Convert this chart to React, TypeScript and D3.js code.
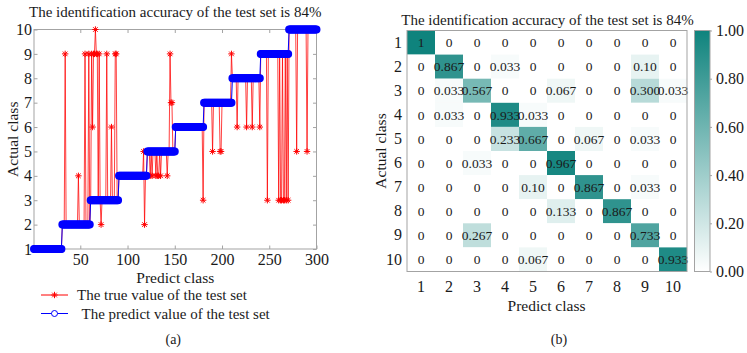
import React, { useEffect, useRef } from 'react';
import * as d3 from 'd3';

const TITLE = 'The identification accuracy of the test set is 84%';

// blue series: the predict value of every test sample (30 per class)
const predictValues = [
  1,1,1,1,1,1,1,1,1,1,1,1,1,1,1,1,1,1,1,1,1,1,1,1,1,1,1,1,1,1,
  2,2,2,2,2,2,2,2,2,2,2,2,2,2,2,2,2,2,2,2,2,2,2,2,2,2,2,2,2,2,
  3,3,3,3,3,3,3,3,3,3,3,3,3,3,3,3,3,3,3,3,3,3,3,3,3,3,3,3,3,3,
  4,4,4,4,4,4,4,4,4,4,4,4,4,4,4,4,4,4,4,4,4,4,4,4,4,4,4,4,4,4,
  5,5,5,5,5,5,5,5,5,5,5,5,5,5,5,5,5,5,5,5,5,5,5,5,5,5,5,5,5,5,
  6,6,6,6,6,6,6,6,6,6,6,6,6,6,6,6,6,6,6,6,6,6,6,6,6,6,6,6,6,6,
  7,7,7,7,7,7,7,7,7,7,7,7,7,7,7,7,7,7,7,7,7,7,7,7,7,7,7,7,7,7,
  8,8,8,8,8,8,8,8,8,8,8,8,8,8,8,8,8,8,8,8,8,8,8,8,8,8,8,8,8,8,
  9,9,9,9,9,9,9,9,9,9,9,9,9,9,9,9,9,9,9,9,9,9,9,9,9,9,9,9,9,9,
  10,10,10,10,10,10,10,10,10,10,10,10,10,10,10,10,10,10,10,10,10,10,10,10,10,10,10,10,10,10,
];

// red series: the true value of every test sample
const trueValues = [
  1,1,1,1,1,1,1,1,1,1,1,1,1,1,1,1,1,1,1,1,1,1,1,1,1,1,1,1,1,1,
  2,2,2,9,2,2,2,2,2,2,2,2,2,2,2,2,2,4,2,2,2,2,2,2,9,2,2,2,9,2,
  3,9,6,9,9,10,9,9,3,9,3,2,3,3,3,3,3,9,3,3,3,3,6,3,3,3,9,9,3,3,
  4,4,4,4,4,4,4,4,4,4,4,4,4,4,4,4,4,4,4,4,4,4,4,4,4,4,5,2,4,4,
  5,5,5,4,5,4,5,5,5,4,5,4,4,5,4,5,5,5,5,5,5,4,5,5,9,7,7,5,5,5,
  6,6,6,6,6,6,6,6,6,6,6,6,6,6,6,6,6,6,6,6,6,6,6,6,6,6,6,6,6,3,
  7,7,7,7,7,7,7,7,7,5,7,7,7,7,7,7,7,5,5,7,7,7,7,7,7,7,7,7,7,9,
  8,8,8,8,8,6,8,8,8,8,8,8,8,8,8,6,8,8,8,8,8,6,8,8,8,8,8,8,8,6,
  9,9,9,9,9,9,9,3,9,9,9,9,9,9,9,9,9,9,9,3,9,3,3,9,3,3,9,3,9,3,
  10,10,10,10,10,10,10,10,5,10,10,10,10,10,10,10,10,10,10,5,10,10,10,10,10,10,10,10,10,10,
];

const xTickValues = [50, 100, 150, 200, 250, 300];
const yTickValues = [1, 2, 3, 4, 5, 6, 7, 8, 9, 10];

const classLabels = ['1', '2', '3', '4', '5', '6', '7', '8', '9', '10'];

// confusion matrix, rows = actual class, columns = predict class (as printed)
const confusionRows = [
  ['1', '0', '0', '0', '0', '0', '0', '0', '0', '0'],
  ['0', '0.867', '0', '0.033', '0', '0', '0', '0', '0.10', '0'],
  ['0', '0.033', '0.567', '0', '0', '0.067', '0', '0', '0.300', '0.033'],
  ['0', '0.033', '0', '0.933', '0.033', '0', '0', '0', '0', '0'],
  ['0', '0', '0', '0.233', '0.667', '0', '0.067', '0', '0.033', '0'],
  ['0', '0', '0.033', '0', '0', '0.967', '0', '0', '0', '0'],
  ['0', '0', '0', '0', '0.10', '0', '0.867', '0', '0.033', '0'],
  ['0', '0', '0', '0', '0', '0.133', '0', '0.867', '0', '0'],
  ['0', '0', '0.267', '0', '0', '0', '0', '0', '0.733', '0'],
  ['0', '0', '0', '0', '0.067', '0', '0', '0', '0', '0.933'],
];

const colorbarTicks = [0, 0.2, 0.4, 0.6, 0.8, 1.0];

const FONT = '"Liberation Serif", "Times New Roman", serif';
const FRAME = '#a3a3a3';
const TEXT = '#1a1a1a';
const TEAL = '#0f837d';
const RED = '#ff0000';
const BLUE = '#0000ff';

const starPath = 'M-3.2,0H3.2M0,-3.2V3.2M-2.3,-2.3L2.3,2.3M-2.3,2.3L2.3,-2.3';

const App = () => {
  const ref = useRef<SVGSVGElement | null>(null);
  const width = 747, height = 353;

  useEffect(() => {
    const svg = d3.select(ref.current);
    svg.selectAll('*').remove();

    // ---------- panel (a): line chart ----------
    const left = 34, right = 316.5, top = 29.5, bottom = 249;
    const x = d3.scaleLinear().domain([1, 300]).range([left, right]);
    const y = d3.scaleLinear().domain([1, 10]).range([bottom, top]);

    const styleAxis = (g: any) => {
      g.select('.domain').remove();
      g.selectAll('.tick line').attr('stroke', FRAME);
      g.selectAll('.tick text')
        .attr('fill', TEXT)
        .style('font-family', FONT)
        .style('font-size', '16px');
    };

    svg.append('g')
      .attr('transform', `translate(0,${bottom})`)
      .call(d3.axisBottom(x).tickValues(xTickValues).tickSize(-3.5).tickPadding(5))
      .call(styleAxis);
    svg.append('g')
      .attr('transform', `translate(0,${top})`)
      .call(d3.axisTop(x).tickValues(xTickValues).tickSize(-3.5).tickFormat(() => ''))
      .call(styleAxis);
    svg.append('g')
      .attr('transform', `translate(${left},0)`)
      .call(d3.axisLeft(y).tickValues(yTickValues).tickSize(-3.5).tickPadding(2))
      .call(styleAxis);
    svg.append('g')
      .attr('transform', `translate(${right},0)`)
      .call(d3.axisRight(y).tickValues(yTickValues).tickSize(-3.5).tickFormat(() => ''))
      .call(styleAxis);

    svg.append('rect')
      .attr('x', left).attr('y', top)
      .attr('width', right - left).attr('height', bottom - top)
      .attr('fill', 'none').attr('stroke', FRAME).attr('stroke-width', 1);

    const line = d3.line<number>()
      .x((_, i) => x(i + 1))
      .y(d => y(d));

    // red: true value
    svg.append('path')
      .datum(trueValues)
      .attr('d', line)
      .attr('fill', 'none')
      .attr('stroke', RED)
      .attr('stroke-opacity', 0.75)
      .attr('stroke-width', 1);
    svg.append('g')
      .selectAll('path')
      .data(trueValues)
      .join('path')
      .attr('transform', (d, i) => `translate(${x(i + 1)},${y(d)})`)
      .attr('d', starPath)
      .attr('stroke', RED)
      .attr('stroke-width', 1);

    // blue: predict value
    svg.append('path')
      .datum(predictValues)
      .attr('d', line)
      .attr('fill', 'none')
      .attr('stroke', BLUE)
      .attr('stroke-width', 1);
    svg.append('g')
      .selectAll('circle')
      .data(predictValues)
      .join('circle')
      .attr('cx', (d, i) => x(i + 1))
      .attr('cy', d => y(d))
      .attr('r', 3.2)
      .attr('fill', 'none')
      .attr('stroke', BLUE)
      .attr('stroke-width', 1.6);

    const addText = (txt: string, tx: number, ty: number, size: number, anchor = 'middle', rotate = false) => {
      const t = svg.append('text')
        .attr('text-anchor', anchor)
        .attr('fill', TEXT)
        .style('font-family', FONT)
        .style('font-size', `${size}px`)
        .text(txt);
      if (rotate) t.attr('transform', `translate(${tx},${ty}) rotate(-90)`);
      else t.attr('x', tx).attr('y', ty);
      return t;
    };

    addText(TITLE, (left + right) / 2, 16.5, 15);
    addText('Predict class', (left + right) / 2, 282.5, 15.5);
    addText('Actual class', 18, (top + bottom) / 2, 15.5, 'middle', true);

    // legend
    const lg = svg.append('g');
    lg.append('line').attr('x1', 41).attr('x2', 68).attr('y1', 295).attr('y2', 295)
      .attr('stroke', RED).attr('stroke-width', 1);
    lg.append('path').attr('transform', 'translate(54.5,295)').attr('d', starPath)
      .attr('stroke', RED).attr('stroke-width', 1);
    lg.append('line').attr('x1', 41).attr('x2', 68).attr('y1', 313.5).attr('y2', 313.5)
      .attr('stroke', BLUE).attr('stroke-width', 1);
    lg.append('circle').attr('cx', 54.5).attr('cy', 313.5).attr('r', 3)
      .attr('fill', '#fff').attr('stroke', BLUE).attr('stroke-width', 1);
    addText('The true value of the test set', 77, 299.5, 15, 'start');
    addText('The predict value of the test set', 81.5, 318.5, 15, 'start');

    addText('(a)', (left + right) / 2 - 2, 344, 14);

    // ---------- panel (b): confusion matrix ----------
    const mLeft = 407, mRight = 687, mTop = 30.5, mBottom = 271.5;
    const cx = d3.scaleBand().domain(classLabels).range([mLeft, mRight]);
    const cy = d3.scaleBand().domain(classLabels).range([mTop, mBottom]);
    const color = d3.scaleLinear<string>().domain([0, 1]).range(['#ffffff', TEAL])
      .interpolate(d3.interpolateRgb);

    const cells = confusionRows.flatMap((row, r) =>
      row.map((label, c) => ({ row: classLabels[r], col: classLabels[c], label, value: +label })));

    svg.append('g')
      .selectAll('rect')
      .data(cells)
      .join('rect')
      .attr('x', d => cx(d.col)!)
      .attr('y', d => cy(d.row)!)
      .attr('width', cx.bandwidth())
      .attr('height', cy.bandwidth())
      .attr('fill', d => color(d.value));

    svg.append('g')
      .selectAll('text')
      .data(cells)
      .join('text')
      .attr('x', d => cx(d.col)! + cx.bandwidth() / 2)
      .attr('y', d => cy(d.row)! + cy.bandwidth() / 2)
      .attr('dy', '0.35em')
      .attr('text-anchor', 'middle')
      .attr('fill', TEXT)
      .style('font-family', FONT)
      .style('font-size', '13.5px')
      .text(d => d.label);

    svg.append('rect')
      .attr('x', mLeft).attr('y', mTop)
      .attr('width', mRight - mLeft).attr('height', mBottom - mTop)
      .attr('fill', 'none').attr('stroke', FRAME).attr('stroke-width', 1);

    svg.append('g')
      .attr('transform', `translate(${mLeft},0)`)
      .call(d3.axisLeft(cy).tickSize(0).tickPadding(5))
      .call(styleAxis);
    svg.append('g')
      .attr('transform', `translate(0,${mBottom})`)
      .call(d3.axisBottom(cx).tickSize(0).tickPadding(9))
      .call(styleAxis);

    addText(TITLE, 547.5, 25, 15);
    addText('Predict class', 546.5, 311, 15.5);
    addText('Actual class', 386, (mTop + mBottom) / 2, 15.5, 'middle', true);
    addText('(b)', 559, 344, 14);

    // colorbar
    const cbLeft = 694.5, cbWidth = 15.5;
    const cbY = d3.scaleLinear().domain([0, 1]).range([mBottom, mTop]);
    const grad = svg.append('defs').append('linearGradient')
      .attr('id', 'cbGrad')
      .attr('x1', 0).attr('x2', 0).attr('y1', 1).attr('y2', 0);
    grad.append('stop').attr('offset', '0%').attr('stop-color', color(0));
    grad.append('stop').attr('offset', '100%').attr('stop-color', color(1));
    svg.append('rect')
      .attr('x', cbLeft).attr('y', cbY(1))
      .attr('width', cbWidth).attr('height', cbY(0) - cbY(1))
      .attr('fill', 'url(#cbGrad)')
      .attr('stroke', FRAME).attr('stroke-width', 1);
    svg.append('g')
      .attr('transform', `translate(${cbLeft + cbWidth},0)`)
      .call(d3.axisRight(cbY).tickValues(colorbarTicks).tickSize(2).tickPadding(4)
        .tickFormat(d => d3.format('.2f')(d as number)))
      .call(styleAxis);
  }, []);

  return (
    <svg
      ref={ref}
      width={width}
      height={height}
      style={{ position: 'absolute', left: 0, top: 0, background: '#fff' }}
    />
  );
};

export default App;
